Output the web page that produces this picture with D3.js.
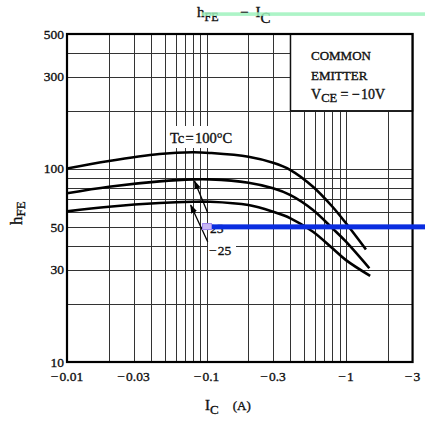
<!DOCTYPE html>
<html><head><meta charset="utf-8">
<script src="https://cdn.jsdelivr.net/npm/d3@7"></script>
<style>
html,body{margin:0;padding:0;background:#fff;}
svg{display:block;font-family:"Liberation Serif","Times New Roman",serif;}
svg text{fill:#111;stroke:#111;stroke-width:0.35px;}
</style></head>
<body>
<svg id="c" width="425" height="421"></svg>
<script>
// ---- data ----
const xTicks = [0.01, 0.03, 0.1, 0.3, 1, 3];
const xTickLabels = ["\u2212\u200a0.01", "\u2212\u200a0.03", "\u2212\u200a0.1", "\u2212\u200a0.3", "\u2212\u200a1", "\u2212\u200a3"];
const yTicks = [10, 30, 50, 100, 300, 500];
const yTickLabels = ["10", "30", "50", "100", "300", "500"];
const xGrid = [0.02,0.03,0.04,0.05,0.06,0.07,0.08,0.09,0.1,0.2,0.3,0.4,0.5,0.6,0.7,0.8,0.9,1,2];
const yGrid = [20,30,40,50,60,70,80,90,100,200,300,400];

const ic100  = [0.01, 0.02, 0.046, 0.08, 0.106, 0.2, 0.3, 0.4, 0.58, 0.8, 1.0, 1.39];
const hfe100 = [100.5, 110, 119.5, 122, 121, 115.7, 107.6, 98.7, 80.9, 63.7, 52.3, 38.3];
const ic25   = [0.01, 0.02, 0.046, 0.08, 0.106, 0.2, 0.3, 0.4, 0.58, 0.8, 1.0, 1.47];
const hfe25  = [74.8, 80.9, 86.2, 88.3, 88.3, 84.8, 79.4, 73.2, 61.3, 49.2, 42, 30.6];
const icm25  = [0.01, 0.02, 0.046, 0.08, 0.106, 0.2, 0.3, 0.4, 0.58, 0.8, 1.0, 1.49];
const hfem25 = [60.3, 63.7, 66.6, 67.6, 67.6, 65, 60, 55.5, 47.3, 38.8, 33.7, 27.9];

// arrows: [tailIc, tailHfe, tipIc, tipHfe]
const arrows = [[0.102, 59.3, 0.082, 86.6], [0.102, 42, 0.077, 65]];

// ---- layout ----
const L = 67, T = 34, B = 362;
const x = d3.scaleLog().domain([0.01, 3]).range([L, L + 139.5 * Math.log10(300)]);
const y = d3.scaleLog().domain([10, 500]).range([B, T]);
const R = x(3);

const svg = d3.select("#c");

// grid
const g = svg.append("g").attr("stroke", "#333").attr("stroke-width", 1);
g.selectAll(".vx").data(xGrid).enter().append("line")
  .attr("x1", d => Math.round(x(d)) + 0.5).attr("x2", d => Math.round(x(d)) + 0.5)
  .attr("y1", T).attr("y2", B);
g.selectAll(".hy").data(yGrid).enter().append("line")
  .attr("y1", d => Math.round(y(d)) + 0.5).attr("y2", d => Math.round(y(d)) + 0.5)
  .attr("x1", L).attr("x2", R);

// white label backgrounds (as in the reference)
svg.append("rect").attr("x", 167).attr("y", 126).attr("width", 68).attr("height", 22).attr("fill", "#fff");
svg.append("rect").attr("x", 208).attr("y", 243).attr("width", 28).attr("height", 14).attr("fill", "#fff");

// legend box (white, covering the grid)
svg.append("rect")
  .attr("x", x(0.4)).attr("y", T)
  .attr("width", R - x(0.4)).attr("height", y(200) - T)
  .attr("fill", "#fff").attr("stroke", "#111").attr("stroke-width", 1.5);

// frame
svg.append("rect").attr("x", L).attr("y", T).attr("width", R - L).attr("height", B - T)
  .attr("fill", "none").attr("stroke", "#000").attr("stroke-width", 2.2);

// curves
const line = d3.line().x(d => x(d[0])).y(d => y(d[1])).curve(d3.curveCatmullRom.alpha(0.5));
[[ic100, hfe100], [ic25, hfe25], [icm25, hfem25]].forEach(([xs, ys]) => {
  svg.append("path").datum(xs.map((v, i) => [v, ys[i]]))
    .attr("d", line).attr("fill", "none").attr("stroke", "#000").attr("stroke-width", 2.6);
});

// arrows
svg.append("defs").append("marker").attr("id", "ah")
  .attr("viewBox", "0 0 10 10").attr("refX", 9).attr("refY", 5)
  .attr("markerWidth", 9).attr("markerHeight", 9).attr("markerUnits", "userSpaceOnUse")
  .attr("orient", "auto")
  .append("path").attr("d", "M0,1.5 L10,5 L0,8.5 Z").attr("fill", "#000");
svg.selectAll(".arr").data(arrows).enter().append("line")
  .attr("x1", d => x(d[0])).attr("y1", d => y(d[1]))
  .attr("x2", d => x(d[2])).attr("y2", d => y(d[3]))
  .attr("stroke", "#000").attr("stroke-width", 1.3).attr("marker-end", "url(#ah)");

// tick labels
svg.selectAll(".xl").data(xTicks).enter().append("text")
  .attr("x", d => x(d)).attr("y", 381).attr("text-anchor", "middle")
  .attr("font-size", 13.5)
  .text((d, i) => xTickLabels[i]);
svg.selectAll(".yl").data(yTicks).enter().append("text")
  .attr("x", 64).attr("y", d => y(d) + 4.5).attr("text-anchor", "end")
  .attr("font-size", 13.5)
  .text((d, i) => yTickLabels[i]);

// annotations
svg.append("text").attr("x", 170).attr("y", 143).attr("font-size", 14.5).text("Tc\u200a=\u200a100\u00B0C");
svg.append("text").attr("x", 210).attr("y", 233).attr("font-size", 13.5).text("25");
svg.append("text").attr("x", 209).attr("y", 255).attr("font-size", 13.5).text("\u2212\u200a25");

// legend text
const lg = svg.append("g").attr("font-size", 13);
lg.append("text").attr("x", 311).attr("y", 59.5).text("COMMON");
lg.append("text").attr("x", 311).attr("y", 80).text("EMITTER");
const vt = lg.append("text").attr("x", 311).attr("y", 99).attr("font-size", 14);
vt.append("tspan").text("V");
vt.append("tspan").attr("font-size", 12.5).attr("dy", 3).text("CE");
vt.append("tspan").attr("dy", -3).text(" = \u2212\u200a10V");

// title
const tt = svg.append("text").attr("x", 197).attr("y", 17).attr("font-size", 15);
tt.append("tspan").text("h");
tt.append("tspan").attr("font-size", 12).attr("dy", 4).text("FE");
tt.append("tspan").attr("dy", -4).attr("dx", 37).text("I");
tt.append("tspan").attr("font-size", 15).attr("dy", 6).text("C");

// axis titles
const yt = svg.append("text").attr("transform", "translate(22,225) rotate(-90)").attr("font-size", 17);
yt.append("tspan").text("h");
yt.append("tspan").attr("font-size", 13).attr("dy", 3).text("FE");

const xt = svg.append("text").attr("x", 205).attr("y", 410).attr("font-size", 15);
xt.append("tspan").text("I");
xt.append("tspan").attr("font-size", 13).attr("dy", 4).text("C");
xt.append("tspan").attr("dy", -4).attr("dx", 14).attr("font-size", 13).text("(A)");

// overlay marks present in the reference image
svg.append("rect").attr("x", x(0.1) - 1).attr("y", y(50) - 2.7)
  .attr("width", 425 - x(0.1) + 1).attr("height", 5).attr("fill", "#0a2de0");
svg.append("rect").attr("x", 202.5).attr("y", y(50) - 3.5).attr("width", 9).attr("height", 6)
  .attr("fill", "#c9b8f5").attr("stroke", "#9d86ee").attr("stroke-width", 1);
svg.append("rect").attr("x", 202).attr("y", 12.3).attr("width", 223).attr("height", 3.6)
  .attr("fill", "#9ff2bd").attr("opacity", 0.85);
// title dash sits on top of the green stripe
svg.append("text").attr("x", 240).attr("y", 17).attr("font-size", 15).text("\u2212");
</script>
</body></html>
